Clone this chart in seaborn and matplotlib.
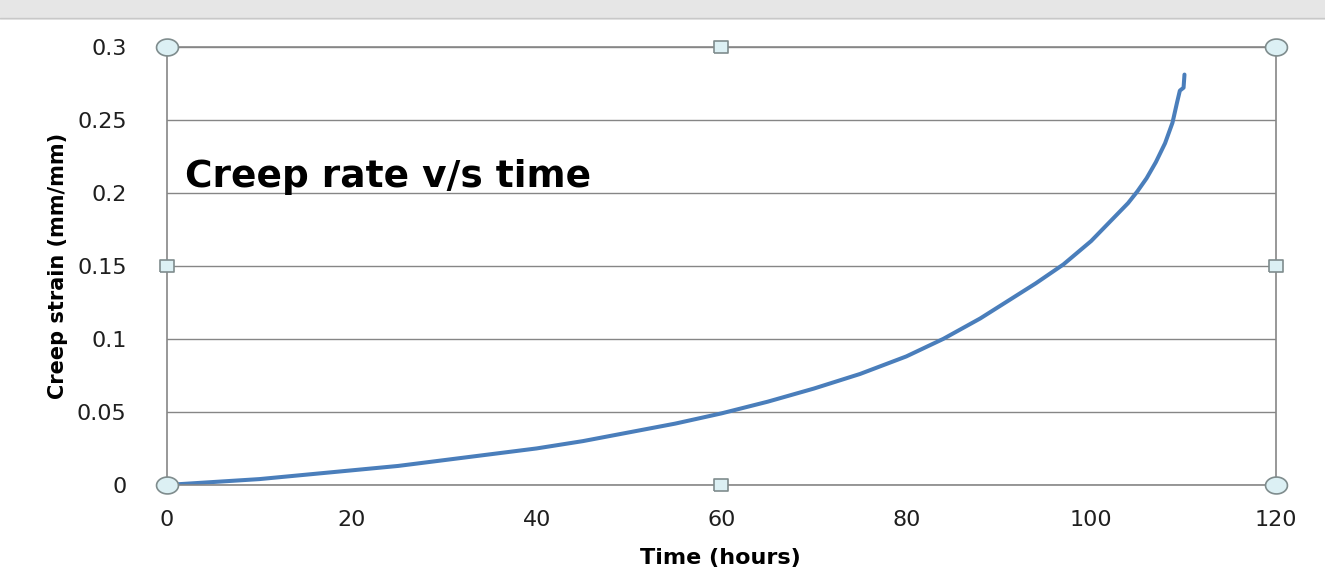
# Creep strain vs time, Excel-style chart
import numpy as np
import matplotlib
matplotlib.use('Agg')
import matplotlib.pyplot as plt
import seaborn as sns
import pandas as pd

# Data
time_hours = [0, 5, 10, 15, 20, 25, 30, 35, 40, 45, 50, 55, 60, 65, 70, 75, 80, 84, 88,
              91, 94, 97, 100, 102, 104, 105, 106, 107, 108, 108.8, 109.3, 109.6, 110.0, 110.1]
creep_strain = [0, 0.002, 0.004, 0.007, 0.010, 0.013, 0.017, 0.021, 0.025, 0.030, 0.036,
                0.042, 0.049, 0.057, 0.066, 0.076, 0.088, 0.100, 0.114, 0.126, 0.138,
                0.151, 0.167, 0.180, 0.193, 0.201, 0.210, 0.221, 0.234, 0.248, 0.262,
                0.270, 0.272, 0.281]
x_ticks = [0, 20, 40, 60, 80, 100, 120]
y_ticks = [0, 0.05, 0.1, 0.15, 0.2, 0.25, 0.3]
y_tick_labels = ["0", "0.05", "0.1", "0.15", "0.2", "0.25", "0.3"]

df = pd.DataFrame({"time": time_hours, "strain": creep_strain})

sns.set_style("white")
plt.rcParams['font.family'] = ['DejaVu Sans']

fig = plt.figure(figsize=(13.25, 5.78), dpi=100)
ax = fig.add_axes([0.126, 0.161, 0.837, 0.758])

sns.lineplot(data=df, x="time", y="strain", ax=ax, color="#4a7ebb", linewidth=2.9)

ax.set_xlim(0, 120)
ax.set_ylim(0, 0.3)
ax.set_xticks(x_ticks)
ax.set_yticks(y_ticks)
ax.set_yticklabels(y_tick_labels)
ax.tick_params(axis='both', direction='out', length=6, width=1, color="#868686",
               labelsize=16, labelcolor="#1f1f1f")
ax.tick_params(axis='x', pad=12)
ax.tick_params(axis='y', pad=23)
ax.yaxis.grid(True, color="#868686", linewidth=1)
for s in ax.spines.values():
    s.set_color("#868686")
    s.set_linewidth(1.2)

ax.set_xlabel("Time (hours)", fontsize=16, fontweight='bold', color="black")
ax.xaxis.set_label_coords(0.499, -0.143)
ax.set_ylabel("Creep strain (mm/mm)", fontsize=15, fontweight='bold', color="black")
ax.yaxis.set_label_coords(-0.089, 0.5)
ax.text(2.0, 0.204, "Creep rate v/s time", fontsize=27, fontweight='bold', color="black",
        ha='left', va='baseline')

# selection handles of the plot area (screenshot is a bit stretched sideways)
t = np.linspace(0, 2 * np.pi, 40)
ellipse = list(zip(1.3 * np.cos(t), np.sin(t)))
rect = [(-1.2, -1), (1.2, -1), (1.2, 1), (-1.2, 1), (-1.2, -1)]
ax.scatter([0, 0, 120, 120], [0, 0.3, 0, 0.3], marker=ellipse, s=250, facecolor="#dcf0f4",
           edgecolor="#7f8c8d", linewidth=1.2, clip_on=False, zorder=5)
ax.scatter([60, 60, 0, 120], [0, 0.3, 0.15, 0.15], marker=rect, s=105, facecolor="#dcf0f4",
           edgecolor="#7f8c8d", linewidth=1.2, clip_on=False, zorder=5)

# clipped ribbon strip at the top of the screenshot
fig.patches.append(plt.Rectangle((0, 0.965), 1, 0.035, transform=fig.transFigure,
                                 facecolor="#e6e6e6", edgecolor="none"))
fig.lines.append(plt.Line2D([0, 1], [0.968, 0.968], transform=fig.transFigure,
                            color="#c8c8c8", linewidth=1))

fig.savefig("out.png", dpi=100)
